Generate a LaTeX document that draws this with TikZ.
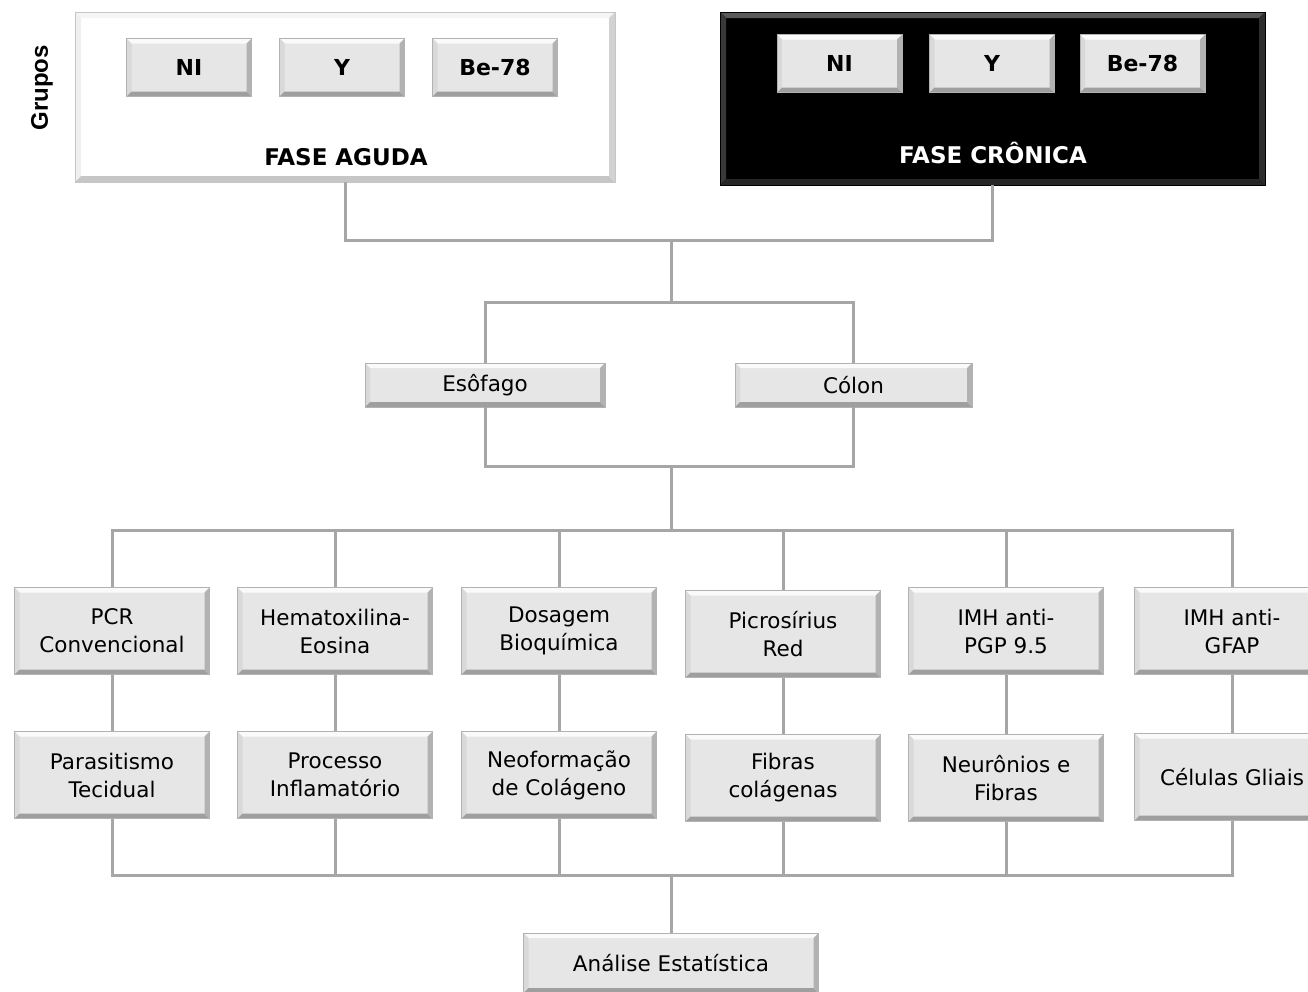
\documentclass[tikz,border=0pt]{standalone}
\usepackage{fontspec}
\setmainfont{DejaVu Sans}
\newfontfamily\arialb{Liberation Sans}[BoldFont={Liberation Sans Bold}]
\newcommand\bevelpp[5]{%
  \fill[#2] (path picture bounding box.north west) -- (path picture bounding box.north east)
     -- ([shift={(-#1,-#1)}]path picture bounding box.north east) -- ([shift={(#1,-#1)}]path picture bounding box.north west) -- cycle;
  \fill[#3] (path picture bounding box.north west) -- (path picture bounding box.south west)
     -- ([shift={(#1,#1)}]path picture bounding box.south west) -- ([shift={(#1,-#1)}]path picture bounding box.north west) -- cycle;
  \fill[#4] (path picture bounding box.south west) -- (path picture bounding box.south east)
     -- ([shift={(-#1,#1)}]path picture bounding box.south east) -- ([shift={(#1,#1)}]path picture bounding box.south west) -- cycle;
  \fill[#5] (path picture bounding box.north east) -- (path picture bounding box.south east)
     -- ([shift={(-#1,#1)}]path picture bounding box.south east) -- ([shift={(-#1,-#1)}]path picture bounding box.north east) -- cycle;
}
\definecolor{boxfill}{HTML}{E6E6E6}
\definecolor{connc}{HTML}{A6A6A6}
\begin{document}
\begin{tikzpicture}[x=1pt,y=-1pt,
  conn/.style={draw=connc, line width=3pt},
  box/.style={draw=gray!60, line width=0.5pt, fill=boxfill, align=center, inner sep=0pt,
    font=\fontsize{21.5}{28}\selectfont,
    path picture={\bevelpp{5pt}{white!96!gray}{gray!30}{gray!75}{gray!60}}},
  gbox/.style={box, minimum width=125pt, minimum height=58pt, font=\bfseries\fontsize{22}{26}\selectfont},
  mbox/.style={box, minimum width=195pt, minimum height=87pt},
  wbig/.style={draw=gray!45, line width=0.6pt, fill=white, inner sep=0pt,
    path picture={\bevelpp{6pt}{gray!8}{gray!12}{gray!45}{gray!35}}},
  kbig/.style={draw=black, line width=0.6pt, fill=black, inner sep=0pt,
    path picture={\bevelpp{6pt}{gray!70!black}{gray!45!black}{gray!30!black}{gray!35!black}}},
  lbl/.style={font=\bfseries\fontsize{23}{26}\selectfont},
]
\useasboundingbox (0,0) rectangle (1308,991);
\clip (0,0) rectangle (1308,991);

% phases
\node[wbig, minimum width=540pt, minimum height=170pt] (fa) at (345,97) {};
\node[kbig, minimum width=545pt, minimum height=173pt] (fc) at (992.5,98.5) {};
\node[font=\arialb\bfseries\fontsize{24}{26}\selectfont, rotate=90] (grupos) at (42,88) {Grupos};

\node[gbox] (ani) at (189,67.5) {NI};
\node[gbox] (ay)  at (342,67.5) {Y};
\node[gbox] (abe) at (495,67.5) {Be-78};
\node[lbl] (fat) at (346,157) {FASE AGUDA};

\node[gbox] (cni) at (839.5,63.5) {NI};
\node[gbox] (cy)  at (992,63.5) {Y};
\node[gbox] (cbe) at (1142.5,63.5) {Be-78};
\node[lbl, text=white] (fct) at (993,153) {FASE CRÔNICA};

% organs
\node[box, minimum width=240pt, minimum height=44pt] (eso) at (485,385) {Esôfago};
\node[box, minimum width=237pt, minimum height=44pt] (col) at (853.5,385) {Cólon};

% methods
\node[mbox] (m1) at (112,631) {PCR\\Convencional};
\node[mbox] (m2) at (335,631) {Hematoxilina-\\Eosina};
\node[mbox] (m3) at (559,631) {Dosagem\\Bioquímica};
\node[mbox] (m4) at (783,634) {Picrosírius\\Red};
\node[mbox] (m5) at (1006,631) {IMH anti-\\PGP 9.5};
\node[mbox] (m6) at (1232,631) {IMH anti-\\GFAP};

\node[mbox] (r1) at (112,775) {Parasitismo\\Tecidual};
\node[mbox] (r2) at (335,775) {Processo\\Inflamatório};
\node[mbox] (r3) at (559,775) {Neoformação\\de Colágeno};
\node[mbox] (r4) at (783,778) {Fibras\\colágenas};
\node[mbox] (r5) at (1006,778) {Neurônios e\\Fibras};
\node[mbox] (r6) at (1232,777) {Células Gliais};

\node[box, minimum width=295pt, minimum height=60pt] (an) at (671,963) {Análise Estatística};

% junctions
\coordinate (j1) at (671,240);
\coordinate (j2) at (671,302);
\coordinate (j3) at (671,466);
\coordinate (j4) at (671,530);
\coordinate (j5) at (671,875);

% connectors
\draw[conn] (fa.south) |- (j1) -| (fc.south);
\draw[conn] (j1) -- (j2);
\draw[conn] (eso.north) |- (j2) -| (col.north);
\draw[conn] (eso.south) |- (j3) -| (col.south);
\draw[conn] (j3) -- (j4);
\draw[conn] (m1.north) |- (j4) -| (m6.north);
\foreach \m in {m2,m3,m4,m5} \draw[conn] (\m.north) -- (\m.north |- j4);
\foreach \i in {1,...,6} \draw[conn] (m\i.south) -- (r\i.north);
\draw[conn] (r1.south) |- (j5) -| (r6.south);
\foreach \r in {r2,r3,r4,r5} \draw[conn] (\r.south) -- (\r.south |- j5);
\draw[conn] (j5) -- (an.north);
\end{tikzpicture}
\end{document}
